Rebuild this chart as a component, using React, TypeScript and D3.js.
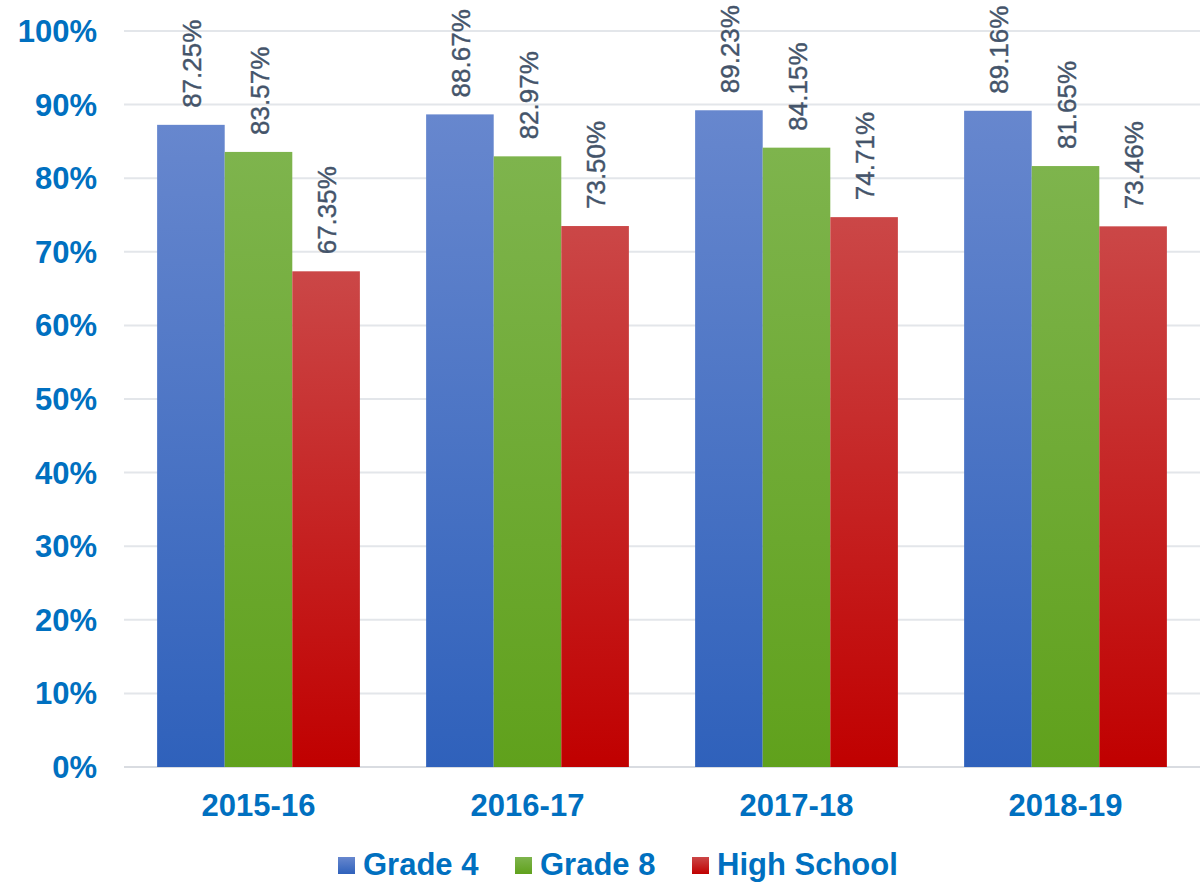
import React, { useEffect, useRef } from "react";
import * as d3 from "d3";

const years = ["2015-16", "2016-17", "2017-18", "2018-19"];
const seriesNames = ["Grade 4", "Grade 8", "High School"];
const grade4 = [87.25, 88.67, 89.23, 89.16];
const grade8 = [83.57, 82.97, 84.15, 81.65];
const highSchool = [67.35, 73.5, 74.71, 73.46];
const yTicks = [0, 10, 20, 30, 40, 50, 60, 70, 80, 90, 100];

// top / bottom colours of each series gradient
const gradTop = ["#6787ce", "#7eb44d", "#cb4747"];
const gradBottom = ["#2f61bb", "#60a11c", "#c00000"];

const W = 1204;
const H = 887;
const margin = { top: 31, right: 4, bottom: 120, left: 124 };
const FONT = "Liberation Sans, Arial, sans-serif";

export default function App() {
  const ref = useRef<SVGSVGElement>(null);

  useEffect(() => {
    const svg = d3.select(ref.current);
    svg.selectAll("*").remove();

    const values = [grade4, grade8, highSchool];
    const data = years.map((yr, i) => ({
      year: yr,
      vals: seriesNames.map((s, j) => ({ key: s, idx: j, v: values[j][i] })),
    }));

    const innerW = W - margin.left - margin.right;
    const innerH = H - margin.top - margin.bottom;

    const defs = svg.append("defs");
    gradTop.forEach((c, i) => {
      const g = defs
        .append("linearGradient")
        .attr("id", "grad" + i)
        .attr("x1", 0)
        .attr("y1", 0)
        .attr("x2", 0)
        .attr("y2", 1);
      g.append("stop").attr("offset", "0%").attr("stop-color", c);
      g.append("stop").attr("offset", "100%").attr("stop-color", gradBottom[i]);
    });

    const g = svg
      .append("g")
      .attr("transform", `translate(${margin.left},${margin.top})`);

    const x0 = d3.scaleBand().domain(years).range([0, innerW]).paddingInner(0).paddingOuter(0);
    const x1 = d3
      .scaleBand()
      .domain(seriesNames)
      .range([0, x0.bandwidth()])
      .paddingInner(0)
      .paddingOuter(0.49);
    const y = d3.scaleLinear().domain([0, 100]).range([innerH, 0]);

    // gridlines
    g.selectAll("line.grid")
      .data(yTicks)
      .join("line")
      .attr("class", "grid")
      .attr("x1", 0)
      .attr("x2", innerW)
      .attr("y1", (d) => y(d))
      .attr("y2", (d) => y(d))
      .attr("stroke", (d) => (d === 0 ? "#d9dce1" : "#e3e6ea"))
      .attr("stroke-width", 2);

    // y labels
    g.selectAll("text.ytick")
      .data(yTicks)
      .join("text")
      .attr("class", "ytick")
      .attr("x", -27)
      .attr("y", (d) => y(d) + 11)
      .attr("text-anchor", "end")
      .attr("font-family", FONT)
      .attr("font-weight", "bold")
      .attr("font-size", 31)
      .attr("fill", "#0070c0")
      .text((d) => d + "%");

    const groups = g
      .selectAll("g.year")
      .data(data)
      .join("g")
      .attr("class", "year")
      .attr("transform", (d) => `translate(${x0(d.year)},0)`);

    groups
      .selectAll("rect")
      .data((d) => d.vals)
      .join("rect")
      .attr("x", (d) => x1(d.key)!)
      .attr("y", (d) => y(d.v))
      .attr("width", x1.bandwidth())
      .attr("height", (d) => innerH - y(d.v))
      .attr("fill", (d) => `url(#grad${d.idx})`);

    groups
      .selectAll("text.val")
      .data((d) => d.vals)
      .join("text")
      .attr("class", "val")
      .attr(
        "transform",
        (d) => `translate(${x1(d.key)! + x1.bandwidth() / 2 + 10},${y(d.v) - 17}) rotate(-90)`
      )
      .attr("text-anchor", "start")
      .attr("font-family", FONT)
      .attr("font-size", 26)
      .attr("stroke", "#44546a")
      .attr("stroke-width", 0.4)
      .attr("fill", "#44546a")
      .text((d) => d.v.toFixed(2) + "%");

    // x labels
    g.selectAll("text.xlab")
      .data(years)
      .join("text")
      .attr("class", "xlab")
      .attr("x", (d) => x0(d)! + x0.bandwidth() / 2)
      .attr("y", innerH + 49)
      .attr("text-anchor", "middle")
      .attr("font-family", FONT)
      .attr("font-weight", "bold")
      .attr("font-size", 31)
      .attr("fill", "#0070c0")
      .text((d) => d);

    // legend
    const legendX = [338, 515, 692];
    const legend = svg
      .selectAll("g.legend")
      .data(seriesNames)
      .join("g")
      .attr("class", "legend")
      .attr("transform", (d, i) => `translate(${legendX[i]},857)`);
    legend
      .append("rect")
      .attr("width", 17)
      .attr("height", 17)
      .attr("fill", (d, i) => `url(#grad${i})`);
    legend
      .append("text")
      .attr("x", 25)
      .attr("y", 18)
      .attr("font-family", FONT)
      .attr("font-weight", "bold")
      .attr("font-size", 31)
      .attr("fill", "#0070c0")
      .text((d) => d);
  }, []);

  return (
    <svg
      ref={ref}
      width={W}
      height={H}
      style={{ position: "absolute", left: 0, top: 0, background: "#fff" }}
    />
  );
}
